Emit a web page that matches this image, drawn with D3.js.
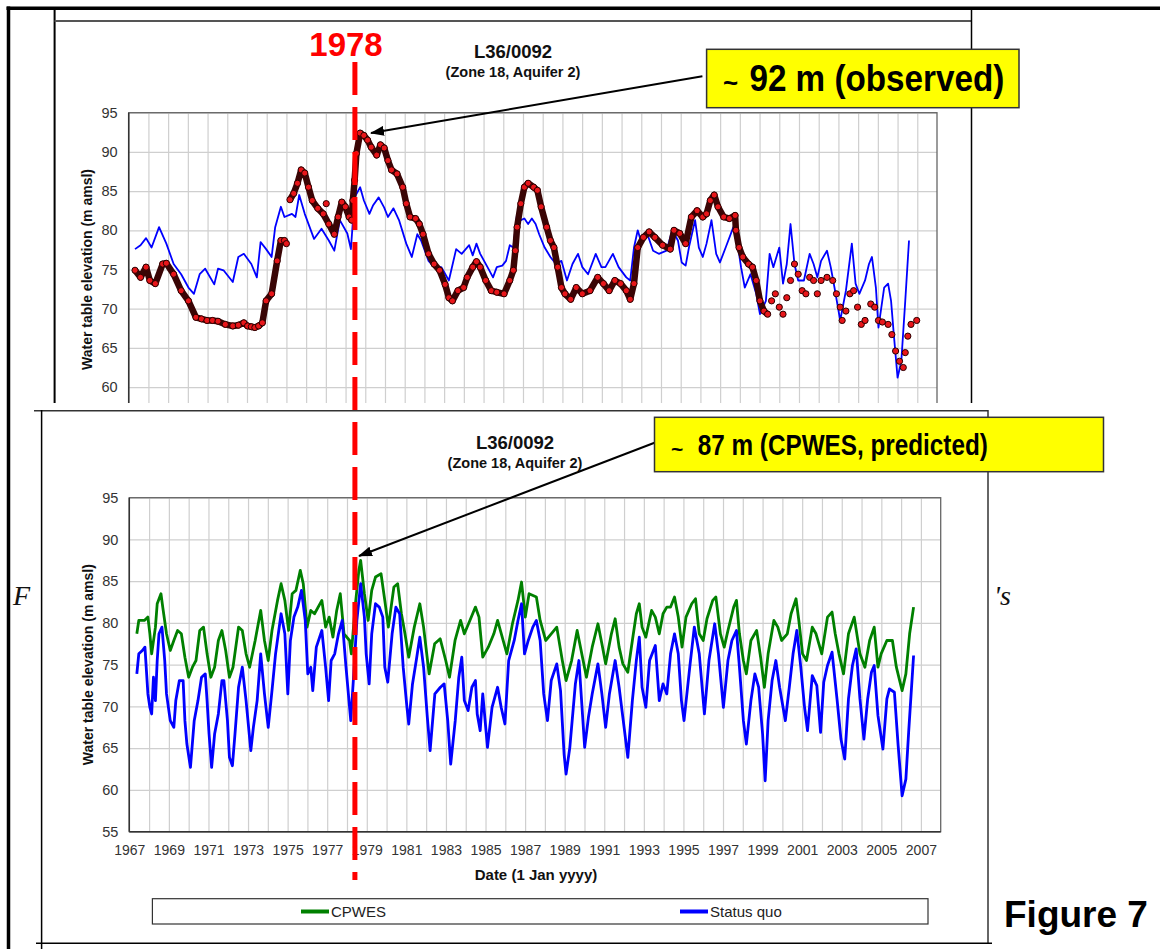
<!DOCTYPE html>
<html>
<head>
<meta charset="utf-8">
<script src="https://cdn.jsdelivr.net/npm/d3@7"></script>
<style>
  body { margin: 0; background: #fff; }
  svg { display: block; }
</style>
</head>
<body>
<svg id="fig" width="1160" height="949"></svg>
<script>
// ---- data (decimal year, m amsl) ----
const yearLabels = d3.range(1967, 2008, 2);
const gridYears = d3.range(1968, 2008);
const elevTicks = [55, 60, 65, 70, 75, 80, 85, 90, 95];

// top chart: observed water level (markers)
const obsEarly = [[1967.32,74.9],[1967.60,74.0],[1967.88,75.3],[1968.07,73.6],[1968.35,73.2],[1968.72,75.7],[1968.91,75.8],
  [1969.28,74.4],[1969.66,72.3],[1970.03,71.0],[1970.41,68.9],[1970.69,68.7],[1970.97,68.5],[1971.25,68.5],[1971.53,68.4],
  [1971.90,68.0],[1972.28,67.8],[1972.56,67.9],[1972.84,68.2],[1973.03,67.8],[1973.22,67.7],[1973.40,67.6],[1973.59,67.8],
  [1973.78,68.2],[1973.97,71.0],[1974.25,71.9],[1974.53,76.1],[1974.72,78.7],[1974.90,78.7],[1975.00,78.3]];
const obsMid = [[1975.18,83.9],[1975.37,84.7],[1975.56,86.0],[1975.75,87.7],[1975.93,87.3],[1976.12,85.5],[1976.31,83.8],
  [1976.59,82.8],[1976.87,82.1],[1977.15,80.8],[1977.43,79.5],[1977.62,81.7],[1977.81,83.6],[1977.99,83.0],[1978.18,81.7],
  [1978.31,81.3],[1978.37,83.8],[1978.46,86.4],[1978.55,89.8],[1978.74,92.4],[1978.93,92.1],[1979.12,91.5],[1979.30,90.6],
  [1979.58,89.6],[1979.77,90.9],[1979.96,90.5],[1980.15,88.9],[1980.33,87.7],[1980.61,87.2],[1980.90,85.5],[1981.08,83.4],
  [1981.27,81.7],[1981.55,81.5],[1981.74,80.8],[1981.93,79.5],[1982.21,77.0],[1982.49,75.7],[1982.77,74.9],[1983.05,73.1],
  [1983.24,71.4],[1983.42,71.0],[1983.70,72.3],[1983.99,72.7],[1984.17,74.0],[1984.45,75.3],[1984.64,76.0],[1984.83,75.3],
  [1985.11,73.6],[1985.39,72.3],[1985.67,72.1],[1986.04,71.9],[1986.33,73.6],[1986.51,74.9],[1986.61,77.4],[1986.70,80.4],
  [1986.89,83.4],[1987.07,85.5],[1987.26,86.0],[1987.54,85.5],[1987.73,85.1],[1987.92,83.0],[1988.20,80.4],[1988.39,78.7],
  [1988.57,77.8],[1988.76,75.3],[1988.95,72.7],[1989.13,71.9],[1989.42,71.2],[1989.70,72.7],[1990.01,71.9],[1990.40,72.3],
  [1990.79,74.0],[1991.08,73.2],[1991.37,72.3],[1991.66,73.6],[1991.95,73.2],[1992.24,72.3],[1992.44,71.2],[1992.63,73.2],
  [1992.82,77.8],[1993.11,79.1],[1993.40,79.8],[1993.69,79.1],[1994.08,78.1],[1994.47,77.6],[1994.66,80.0],[1994.95,79.6],
  [1995.25,78.3],[1995.54,81.7],[1995.83,82.5],[1996.12,81.7],[1996.31,82.1],[1996.50,83.8],[1996.70,84.5],[1996.89,83.0],
  [1997.18,81.7],[1997.47,81.5],[1997.76,81.9],[1997.80,80.0],[1997.96,77.8],[1998.15,76.6],[1998.44,75.7],[1998.64,75.3],
  [1998.83,73.6],[1999.02,71.0],[1999.22,69.7],[1999.41,69.3]];
const obsRecent = [[1999.61,71.0],[1999.80,71.9],[2000.00,70.2],[2000.19,69.3],
  [2000.38,71.4],[2000.57,73.6],[2000.77,75.7],[2000.96,74.4],[2001.16,72.3],[2001.35,71.9],[2001.54,74.0],[2001.74,73.6],
  [2001.93,71.9],[2002.12,73.6],[2002.42,74.0],[2002.71,73.6],[2002.90,71.9],[2003.09,70.2],[2003.19,68.5],[2003.38,69.7],
  [2003.58,71.9],[2003.77,72.3],[2003.97,70.2],[2004.16,68.0],[2004.35,68.5],[2004.64,70.6],[2004.84,70.2],[2005.03,68.5],
  [2005.23,68.3],[2005.52,68.0],[2005.71,66.7],[2005.90,64.6],[2006.10,63.3],[2006.29,62.5],[2006.39,64.4],[2006.52,66.5],
  [2006.68,68.0],[2006.97,68.5]];
const obsStray = [[1977.02,83.4]];

// top chart: model (blue)
const modelTop = [[1967.32,77.6],[1967.60,78.1],[1967.88,79.0],[1968.16,77.8],[1968.54,80.4],[1968.91,78.3],[1969.28,75.7],
  [1969.66,74.4],[1970.03,72.7],[1970.31,71.9],[1970.60,74.4],[1970.88,75.1],[1971.34,73.1],[1971.53,75.1],[1971.81,74.9],
  [1972.28,73.4],[1972.56,76.6],[1972.84,77.0],[1973.22,75.7],[1973.50,74.0],[1973.69,78.5],[1973.97,77.6],[1974.25,76.6],
  [1974.43,80.4],[1974.72,83.0],[1974.90,81.7],[1975.28,82.1],[1975.46,81.7],[1975.65,84.5],[1975.93,82.1],[1976.40,78.9],
  [1976.78,80.2],[1977.15,78.7],[1977.43,77.4],[1977.71,81.3],[1978.09,79.6],[1978.27,77.6],[1978.46,84.2],[1978.74,85.5],
  [1978.93,83.8],[1979.21,82.1],[1979.40,83.2],[1979.68,84.2],[1979.96,82.9],[1980.15,81.7],[1980.43,82.8],[1980.71,81.3],
  [1981.08,78.3],[1981.36,76.6],[1981.64,79.5],[1981.83,78.7],[1982.21,76.1],[1982.49,75.3],[1982.86,75.3],[1983.24,73.6],
  [1983.61,77.6],[1983.89,77.0],[1984.27,78.1],[1984.45,76.8],[1984.64,78.3],[1984.83,77.0],[1985.20,75.3],[1985.48,74.0],
  [1985.67,75.3],[1985.95,75.5],[1986.14,76.1],[1986.33,78.1],[1986.51,77.8],[1986.70,82.1],[1986.89,81.3],[1987.07,81.5],
  [1987.26,80.8],[1987.45,81.5],[1987.64,80.8],[1987.82,79.5],[1988.10,77.8],[1988.39,76.6],[1988.67,75.7],[1988.95,76.1],
  [1989.23,73.6],[1989.51,75.7],[1989.79,77.0],[1990.01,75.3],[1990.30,74.4],[1990.69,77.0],[1990.98,75.3],[1991.18,75.3],
  [1991.56,77.0],[1991.85,75.3],[1992.24,74.0],[1992.44,73.6],[1992.63,77.8],[1992.82,80.0],[1993.02,78.3],[1993.31,79.5],
  [1993.60,77.4],[1993.89,77.0],[1994.28,77.4],[1994.57,80.0],[1994.86,78.7],[1995.05,75.9],[1995.25,75.5],[1995.44,78.1],
  [1995.73,81.3],[1995.92,77.8],[1996.12,76.6],[1996.31,78.3],[1996.56,81.3],[1996.80,77.0],[1996.99,75.9],[1997.28,77.8],
  [1997.67,80.4],[1997.86,78.7],[1998.06,75.3],[1998.25,72.7],[1998.54,74.4],[1998.83,71.9],[1999.02,69.3],[1999.32,71.0],
  [1999.51,77.0],[1999.70,75.3],[2000.00,77.8],[2000.19,73.2],[2000.38,75.7],[2000.57,80.8],[2000.77,75.7],[2000.96,73.6],
  [2001.25,73.6],[2001.54,77.0],[2001.74,75.7],[2001.93,74.0],[2002.12,76.1],[2002.42,77.4],[2002.61,75.3],[2002.80,72.7],
  [2003.09,68.5],[2003.38,72.3],[2003.68,78.3],[2003.87,73.2],[2004.06,71.9],[2004.35,73.6],[2004.55,75.7],[2004.70,76.6],
  [2004.90,72.7],[2005.03,67.6],[2005.32,72.7],[2005.52,73.2],[2005.67,71.0],[2005.81,66.7],[2006.00,61.2],[2006.19,63.3],
  [2006.39,71.0],[2006.58,78.7]];

// bottom chart: CPWES (green)
const cpwes = [[1967.38,78.7],[1967.48,80.3],[1967.76,80.3],[1967.94,80.7],[1968.04,78.7],[1968.13,76.3],[1968.32,79.5],
  [1968.41,82.3],[1968.60,83.5],[1968.69,81.9],[1968.88,78.7],[1969.07,76.7],[1969.25,77.9],[1969.44,79.1],[1969.63,78.7],
  [1969.81,75.9],[1970.00,73.5],[1970.19,74.7],[1970.37,75.5],[1970.56,79.1],[1970.75,79.5],[1970.93,76.3],[1971.12,73.5],
  [1971.31,74.7],[1971.50,77.9],[1971.68,79.1],[1971.87,76.7],[1972.06,73.5],[1972.24,74.7],[1972.52,79.5],[1972.71,79.1],
  [1972.90,76.3],[1973.08,74.7],[1973.36,77.9],[1973.64,81.5],[1973.83,77.9],[1974.02,75.5],[1974.21,79.1],[1974.49,82.7],
  [1974.67,84.7],[1974.86,82.7],[1975.05,79.1],[1975.23,83.5],[1975.42,83.9],[1975.64,86.3],[1975.79,84.7],[1975.98,79.5],
  [1976.17,81.5],[1976.36,81.1],[1976.73,82.7],[1976.92,79.5],[1977.10,80.7],[1977.29,78.3],[1977.48,81.5],[1977.66,83.5],
  [1977.85,78.7],[1978.13,77.9],[1978.22,76.3],[1978.41,81.9],[1978.60,86.3],[1978.69,87.5],[1978.88,83.5],[1979.07,80.3],
  [1979.25,83.9],[1979.44,85.5],[1979.72,85.9],[1979.91,82.7],[1980.09,79.5],[1980.37,84.3],[1980.56,84.7],[1980.75,81.1],
  [1980.93,78.7],[1981.12,75.9],[1981.40,79.5],[1981.68,82.3],[1981.87,79.5],[1982.15,73.9],[1982.43,77.5],[1982.71,78.1],
  [1982.99,75.5],[1983.18,73.5],[1983.46,77.9],[1983.74,80.3],[1983.93,78.7],[1984.21,80.3],[1984.49,81.9],[1984.67,80.7],
  [1984.86,75.9],[1985.14,77.1],[1985.42,78.7],[1985.61,80.3],[1985.89,77.9],[1986.08,76.3],[1986.36,79.9],[1986.64,82.7],
  [1986.82,84.9],[1987.01,80.7],[1987.20,83.5],[1987.57,83.1],[1987.76,80.3],[1988.04,77.9],[1988.32,78.7],[1988.60,79.5],
  [1988.88,75.5],[1989.07,73.1],[1989.35,75.5],[1989.63,79.1],[1990.10,73.5],[1990.39,77.1],[1990.68,79.9],[1990.88,77.5],
  [1991.07,75.1],[1991.36,78.7],[1991.55,80.5],[1991.75,77.1],[1991.94,75.1],[1992.19,74.1],[1992.42,77.9],[1992.62,81.1],
  [1992.77,82.3],[1992.91,79.5],[1993.10,78.3],[1993.39,81.5],[1993.58,80.7],[1993.78,78.7],[1993.97,81.1],[1994.16,81.9],
  [1994.35,81.9],[1994.55,83.1],[1994.74,80.7],[1994.93,77.1],[1995.13,80.7],[1995.42,82.3],[1995.61,82.9],[1995.80,78.7],
  [1996.00,77.9],[1996.19,80.5],[1996.48,82.7],[1996.64,83.1],[1996.87,78.7],[1997.06,77.1],[1997.25,79.1],[1997.54,81.9],
  [1997.68,82.7],[1997.83,78.7],[1998.03,75.5],[1998.18,73.9],[1998.41,77.9],[1998.70,79.1],[1998.90,75.9],[1999.09,72.3],
  [1999.28,76.3],[1999.57,80.3],[1999.77,79.5],[1999.96,77.9],[2000.25,78.7],[2000.44,81.1],[2000.69,82.9],[2000.83,80.3],
  [2001.02,76.3],[2001.22,75.5],[2001.51,79.5],[2001.70,78.7],[2001.99,76.3],[2002.28,80.7],[2002.51,81.3],[2002.67,78.7],
  [2002.86,76.3],[2003.09,73.9],[2003.34,78.7],[2003.63,80.7],[2003.92,76.3],[2004.17,74.7],[2004.41,77.9],[2004.64,79.5],
  [2004.83,74.7],[2004.99,76.3],[2005.28,77.9],[2005.56,77.9],[2005.76,74.7],[2006.05,71.9],[2006.24,73.9],[2006.43,78.7],
  [2006.63,81.9]];

// bottom chart: status quo (blue)
const statusQuo = [[1967.38,73.9],[1967.48,76.3],[1967.66,76.7],[1967.79,77.1],[1967.94,71.5],[1968.04,69.9],[1968.13,69.1],
  [1968.22,73.5],[1968.32,70.7],[1968.41,75.5],[1968.50,78.7],[1968.65,79.5],[1968.79,75.5],[1968.88,71.5],[1969.07,68.3],
  [1969.25,67.5],[1969.35,70.7],[1969.53,73.1],[1969.72,73.1],[1969.81,68.3],[1969.91,65.5],[1970.09,62.7],[1970.28,68.3],
  [1970.47,70.7],[1970.65,73.5],[1970.84,73.9],[1970.93,70.7],[1971.03,66.7],[1971.16,62.7],[1971.31,66.7],[1971.50,69.1],
  [1971.68,73.1],[1971.78,73.1],[1971.96,68.3],[1972.06,63.9],[1972.21,62.9],[1972.34,66.7],[1972.52,72.3],[1972.71,74.7],
  [1972.90,70.7],[1973.14,64.7],[1973.27,67.5],[1973.46,70.7],[1973.64,76.3],[1973.83,71.5],[1974.02,67.5],[1974.21,71.9],
  [1974.39,76.3],[1974.67,81.1],[1974.86,78.7],[1975.01,71.5],[1975.14,77.9],[1975.32,80.7],[1975.51,81.9],[1975.70,83.9],
  [1975.89,80.3],[1976.02,73.9],[1976.17,74.7],[1976.27,71.9],[1976.45,77.1],[1976.73,79.1],[1976.92,74.7],[1977.07,70.7],
  [1977.20,75.5],[1977.38,76.3],[1977.57,78.7],[1977.76,80.3],[1977.95,74.7],[1978.19,68.3],[1978.32,73.1],[1978.50,80.3],
  [1978.69,84.7],[1978.88,80.7],[1978.97,76.3],[1979.12,72.7],[1979.25,78.7],[1979.44,82.3],[1979.63,81.9],[1979.81,80.7],
  [1979.91,74.7],[1980.06,72.9],[1980.28,78.7],[1980.47,81.9],[1980.66,81.1],[1980.84,74.7],[1981.03,69.9],[1981.12,67.9],
  [1981.31,72.7],[1981.50,75.5],[1981.68,78.3],[1981.87,74.7],[1982.06,68.7],[1982.20,64.7],[1982.44,71.5],[1982.72,72.3],
  [1982.91,72.7],[1983.09,68.3],[1983.24,63.1],[1983.47,68.3],[1983.65,73.5],[1983.80,75.9],[1983.93,70.7],[1984.12,69.5],
  [1984.31,72.3],[1984.49,73.1],[1984.58,69.1],[1984.73,67.1],[1984.86,71.5],[1985.10,65.1],[1985.33,69.9],[1985.61,72.3],
  [1985.79,69.9],[1985.98,67.9],[1986.17,75.5],[1986.45,77.9],[1986.64,80.3],[1986.82,82.3],[1986.97,76.3],[1987.16,77.9],
  [1987.39,79.5],[1987.57,80.3],[1987.76,77.9],[1987.94,71.5],[1988.13,68.3],[1988.32,73.1],[1988.60,75.1],[1988.79,71.9],
  [1988.97,64.3],[1989.07,61.9],[1989.26,65.1],[1989.54,72.7],[1989.72,75.5],[1990.01,65.1],[1990.20,68.7],[1990.39,71.5],
  [1990.68,75.1],[1990.88,71.5],[1991.07,67.5],[1991.26,71.5],[1991.55,75.5],[1991.75,72.3],[1991.94,68.7],[1992.19,63.9],
  [1992.42,70.7],[1992.62,75.5],[1992.77,78.3],[1992.91,72.3],[1993.10,69.9],[1993.29,75.5],[1993.58,77.3],[1993.78,70.7],
  [1993.97,72.7],[1994.16,71.5],[1994.35,76.3],[1994.55,78.7],[1994.74,76.3],[1994.90,70.7],[1995.03,68.3],[1995.32,74.7],
  [1995.55,79.5],[1995.80,76.3],[1996.06,69.1],[1996.29,75.5],[1996.58,79.9],[1996.77,76.3],[1997.02,69.9],[1997.25,75.5],
  [1997.45,77.9],[1997.68,79.1],[1997.83,74.7],[1998.03,68.3],[1998.18,65.5],[1998.41,70.7],[1998.61,73.9],[1998.80,72.3],
  [1999.00,66.7],[1999.13,61.1],[1999.28,68.3],[1999.48,73.1],[1999.67,75.5],[1999.86,72.3],[2000.15,68.3],[2000.35,72.3],
  [2000.54,76.3],[2000.73,79.1],[2000.93,74.7],[2001.12,69.9],[2001.27,67.1],[2001.51,73.7],[2001.74,72.5],[2001.93,66.9],
  [2002.09,72.9],[2002.28,74.9],[2002.51,76.5],[2002.76,70.9],[2002.96,66.1],[2003.15,63.7],[2003.34,70.9],[2003.54,74.9],
  [2003.73,76.9],[2003.92,70.9],[2004.12,66.1],[2004.31,70.9],[2004.50,74.1],[2004.64,74.9],[2004.83,68.9],[2005.08,64.9],
  [2005.28,70.9],[2005.41,72.1],[2005.66,71.7],[2005.85,65.3],[2006.05,59.3],[2006.24,61.3],[2006.38,66.9],[2006.63,76.1]];

// ---- drawing ----
const FONT = "Liberation Sans, Arial, Helvetica, sans-serif";
const SERIF = "Liberation Serif, Times New Roman, serif";
const svg = d3.select("#fig");
svg.append("rect").attr("width", 1160).attr("height", 949).attr("fill", "#fff");

const defs = svg.append("defs");
defs.append("clipPath").attr("id", "clipTop")
  .append("rect").attr("x", 0).attr("y", 0).attr("width", 1160).attr("height", 403);
defs.append("marker").attr("id", "arrowHead")
  .attr("viewBox", "0 0 14 10").attr("refX", 13).attr("refY", 5)
  .attr("markerWidth", 14).attr("markerHeight", 10)
  .attr("markerUnits", "userSpaceOnUse").attr("orient", "auto")
  .append("path").attr("d", "M0,0 L14,5 L0,10 Z").attr("fill", "#000");

function seg(g, x1, y1, x2, y2, w, c) {
  return g.append("line").attr("x1", x1).attr("y1", y1).attr("x2", x2).attr("y2", y2)
    .attr("stroke", c || "#000").attr("stroke-width", w || 1);
}

const xTop = d3.scaleLinear().domain([1967, 2008]).range([128.7, 937]);
const yTop = d3.scaleLinear().domain([55, 95]).range([426.3, 112.7]);
const xBot = d3.scaleLinear().domain([1967, 2008]).range([129.3, 940.7]);
const yBot = d3.scaleLinear().domain([55, 95]).range([831.7, 497.7]);

function drawChart(g, x, y, o) {
  const x0 = x.range()[0], x1 = x.range()[1], yb = y.range()[0], yt = y.range()[1];
  // yearly vertical gridlines
  g.append("g").attr("transform", `translate(0,${yb})`)
    .call(d3.axisBottom(x).tickValues(gridYears).tickSize(-(yb - yt)).tickFormat(""))
    .call(a => a.select(".domain").remove())
    .selectAll("line").attr("stroke", "#cfcfcf").attr("stroke-width", 1.2);
  // horizontal gridlines
  g.append("g").attr("transform", `translate(${x0},0)`)
    .call(d3.axisLeft(y).tickValues(elevTicks).tickSize(-(x1 - x0)).tickFormat(""))
    .call(a => a.select(".domain").remove())
    .selectAll("line").attr("stroke", "#cfcfcf").attr("stroke-width", 1.2);
  // y tick labels
  const ya = g.append("g").attr("transform", `translate(${x0},0)`)
    .call(d3.axisLeft(y).tickValues(elevTicks).tickSize(0).tickPadding(11));
  ya.select(".domain").remove();
  ya.attr("font-family", FONT).attr("font-size", 14.5);
  ya.selectAll("text").attr("fill", "#333");
  // plot border
  g.append("rect").attr("x", x0).attr("y", yt).attr("width", x1 - x0).attr("height", yb - yt)
    .attr("fill", "none").attr("stroke", "#666").attr("stroke-width", 1.3);
  seg(g, x0, yt, x0, yb, 1.5, "#333");
  // titles
  g.append("text").attr("x", o.tx).attr("y", o.ty).attr("text-anchor", "middle")
    .attr("font-family", FONT).attr("font-weight", "bold").attr("font-size", 18.5).attr("fill", "#111")
    .text("L36/0092");
  g.append("text").attr("x", o.tx).attr("y", o.ty + 19).attr("text-anchor", "middle")
    .attr("font-family", FONT).attr("font-weight", "bold").attr("font-size", 14.5).attr("fill", "#111")
    .text("(Zone 18, Aquifer 2)");
  // y axis title
  g.append("text").attr("transform", `translate(${o.ylx},${(yt + yb) / 2}) rotate(-90)`)
    .attr("text-anchor", "middle").attr("font-family", FONT).attr("font-weight", "bold")
    .attr("font-size", 14).attr("fill", "#111").text("Water table elevation (m amsl)");
}

// outer page frame
seg(svg, 6.5, 8.3, 1160, 8.3, 3.5);
seg(svg, 8.5, 6.5, 8.5, 949, 3.5);

// ---------- top panel ----------
const topG = svg.append("g").attr("clip-path", "url(#clipTop)");
seg(topG, 54.6, 8, 54.6, 403, 2);
seg(topG, 54.6, 21, 971, 21, 2, "#555");
seg(topG, 971.5, 8, 971.5, 403, 1.5);
drawChart(topG, xTop, yTop, { tx: 513, ty: 58, ylx: 92 });

const lineTop = d3.line().x(d => xTop(d[0])).y(d => yTop(d[1]));
topG.append("path").attr("d", lineTop(modelTop)).attr("fill", "none")
  .attr("stroke", "#0000ff").attr("stroke-width", 1.8).attr("stroke-linejoin", "round");
// densely sampled stretches read as a dark band in the source
[obsEarly, obsMid].forEach(s => {
  topG.append("path").attr("d", lineTop(s)).attr("fill", "none")
    .attr("stroke", "#3a0505").attr("stroke-width", 6.5).attr("stroke-linejoin", "round");
});
topG.selectAll("circle.obs").data(obsEarly.concat(obsMid, obsRecent, obsStray)).join("circle")
  .attr("class", "obs")
  .attr("cx", d => xTop(d[0])).attr("cy", d => yTop(d[1])).attr("r", 3.1)
  .attr("fill", "#e8161a").attr("stroke", "#2a0000").attr("stroke-width", 1);

// ---------- bottom panel ----------
const botG = svg.append("g");
seg(botG, 34, 410.7, 988, 410.7, 1.5, "#333");
seg(botG, 41.6, 410, 41.6, 949, 1.5);
seg(botG, 988, 410, 988, 943.3, 1.5, "#333");
seg(botG, 36, 943.3, 992, 943.3, 1.5);
drawChart(botG, xBot, yBot, { tx: 515, ty: 449, ylx: 93 });

// x tick labels
const xa = botG.append("g").attr("transform", `translate(0,${yBot.range()[0]})`)
  .call(d3.axisBottom(xBot).tickValues(yearLabels).tickSize(0).tickPadding(13).tickFormat(d3.format("d")));
xa.select(".domain").remove();
xa.attr("font-family", FONT).attr("font-size", 14);
xa.selectAll("text").attr("fill", "#333");
seg(botG, xBot.range()[0], yBot.range()[0], xBot.range()[1], yBot.range()[0], 1.5, "#333");
botG.append("text").attr("x", 536).attr("y", 880).attr("text-anchor", "middle")
  .attr("font-family", FONT).attr("font-weight", "bold").attr("font-size", 15).attr("fill", "#111")
  .text("Date (1 Jan yyyy)");

const lineBot = d3.line().x(d => xBot(d[0])).y(d => yBot(d[1]));
botG.append("path").attr("d", lineBot(cpwes)).attr("fill", "none")
  .attr("stroke", "#008000").attr("stroke-width", 2.8).attr("stroke-linejoin", "round");
botG.append("path").attr("d", lineBot(statusQuo)).attr("fill", "none")
  .attr("stroke", "#0000ff").attr("stroke-width", 2.8).attr("stroke-linejoin", "round");

// legend
const leg = botG.append("g");
leg.append("rect").attr("x", 152.4).attr("y", 898.7).attr("width", 775.6).attr("height", 25.3)
  .attr("fill", "#fff").attr("stroke", "#333").attr("stroke-width", 1.2);
const legendItems = [
  { name: "CPWES", color: "#008000", x: 301 },
  { name: "Status quo", color: "#0000ff", x: 680 }
];
legendItems.forEach(it => {
  seg(leg, it.x, 911.5, it.x + 28, 911.5, 4, it.color);
  leg.append("text").attr("x", it.x + 30).attr("y", 917).attr("font-family", FONT)
    .attr("font-size", 15).attr("fill", "#222").text(it.name);
});

// ---------- 1978 marker ----------
svg.append("line").attr("x1", xBot(1978.4)).attr("x2", xBot(1978.4)).attr("y1", 62).attr("y2", 880)
  .attr("stroke", "#ff0000").attr("stroke-width", 5).attr("stroke-dasharray", "33,12");
svg.append("text").attr("x", 346).attr("y", 56).attr("text-anchor", "middle")
  .attr("font-family", FONT).attr("font-weight", "bold").attr("font-size", 33).attr("fill", "#ff0000")
  .text("1978");

// ---------- call-outs ----------
function callout(bx, by, bw, bh, tx, ty, fs, tl, label, tildeX, arrow) {
  svg.append("line").attr("x1", arrow[0]).attr("y1", arrow[1]).attr("x2", arrow[2]).attr("y2", arrow[3])
    .attr("stroke", "#000").attr("stroke-width", 2).attr("marker-end", "url(#arrowHead)");
  svg.append("rect").attr("x", bx).attr("y", by).attr("width", bw).attr("height", bh)
    .attr("fill", "#ffff00").attr("stroke", "#333").attr("stroke-width", 1.5);
  svg.append("text").attr("x", tildeX).attr("y", ty + 1).attr("font-family", FONT)
    .attr("font-weight", "bold").attr("font-size", fs * 0.7).text("~");
  svg.append("text").attr("x", tx).attr("y", ty).attr("font-family", FONT)
    .attr("font-weight", "bold").attr("font-size", fs)
    .attr("textLength", tl).attr("lengthAdjust", "spacingAndGlyphs").text(label);
}
callout(706.6, 49.3, 312.4, 58.4, 749.4, 91, 37, 255, "92 m (observed)", 723, [702.4, 76.3, 371, 133]);
callout(654.5, 417.3, 449, 54.4, 697.8, 455, 30, 290, "87 m (CPWES, predicted)", 671, [654.5, 442.7, 359, 556]);

// ---------- page fragments ----------
svg.append("text").attr("x", 13).attr("y", 605).attr("font-family", SERIF).attr("font-style", "italic")
  .attr("font-size", 28).attr("fill", "#111").text("F");
svg.append("text").attr("x", 994).attr("y", 605).attr("font-family", SERIF).attr("font-style", "italic")
  .attr("font-size", 28).attr("fill", "#111").text("'s");
svg.append("text").attr("x", 1004).attr("y", 927).attr("font-family", FONT).attr("font-weight", "bold")
  .attr("font-size", 37).attr("fill", "#000").text("Figure 7");
</script>
</body>
</html>
